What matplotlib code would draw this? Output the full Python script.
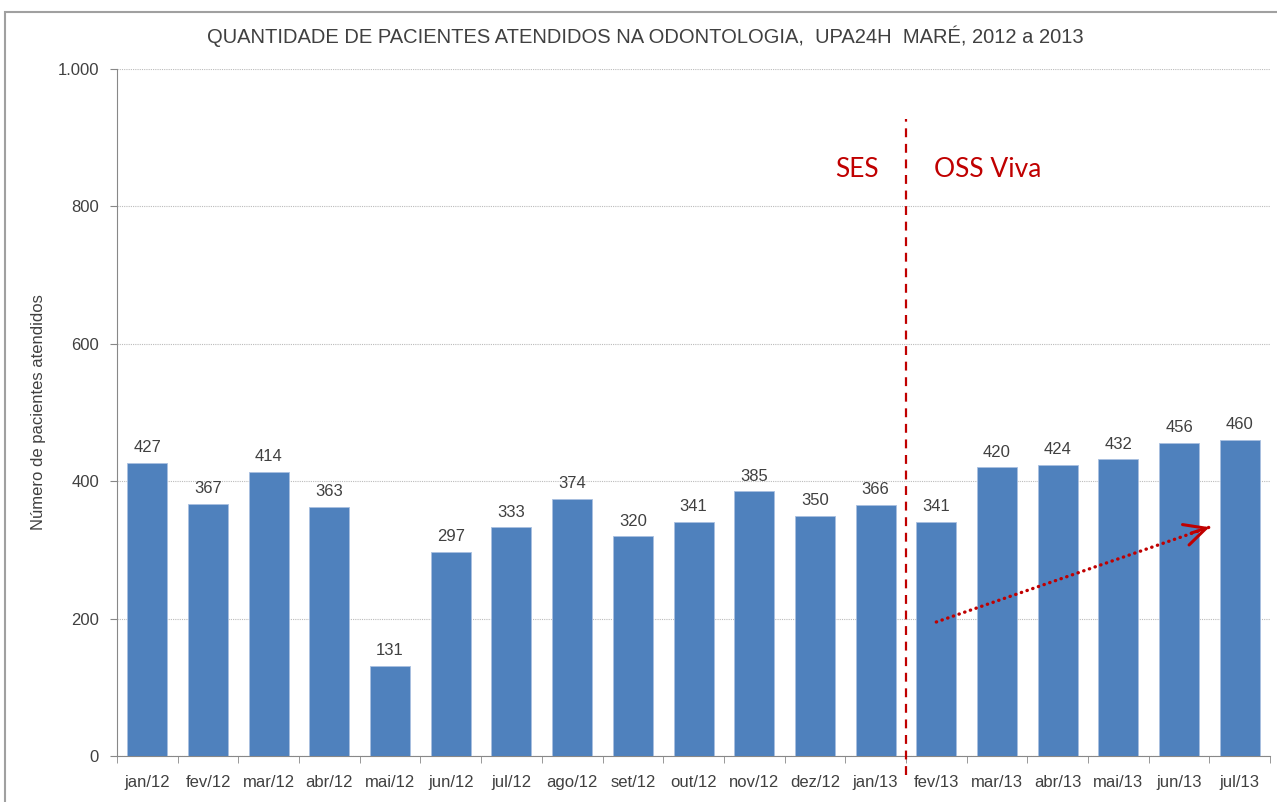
import matplotlib
matplotlib.use('Agg')
import matplotlib.pyplot as plt
from matplotlib.patches import Rectangle
from matplotlib.ticker import FuncFormatter, MultipleLocator
import numpy as np

months = ["jan/12", "fev/12", "mar/12", "abr/12", "mai/12", "jun/12", "jul/12",
          "ago/12", "set/12", "out/12", "nov/12", "dez/12", "jan/13", "fev/13",
          "mar/13", "abr/13", "mai/13", "jun/13", "jul/13"]
patients = [427, 367, 414, 363, 131, 297, 333, 374, 320, 341, 385, 350, 366,
            341, 420, 424, 432, 456, 460]

# split between the two managements (SES / OSS Viva)
split_idx = 12.5
trend_start = (13, 195)
trend_end = (17.5, 333)

plt.rcParams['font.family'] = ['Liberation Sans', 'DejaVu Sans']
txt = "#404040"
red = "#C00000"

fig = plt.figure(figsize=(12.77, 8.02), dpi=100)
ax = fig.add_axes([0.0916, 0.0574, 0.903, 0.8566])

x = np.arange(len(months))
ax.bar(x, patients, width=0.66, color="#4F81BD", edgecolor="#A9C0E0", linewidth=0.6, zorder=3)
for xi, v in zip(x, patients):
    ax.text(xi, v + 11, str(v), ha="center", va="bottom", fontsize=12, color=txt)

ax.set_xlim(-0.5, len(months) - 0.5)
ax.set_ylim(0, 1000)
ax.yaxis.set_major_locator(MultipleLocator(200))
ax.yaxis.set_major_formatter(FuncFormatter(lambda v, p: f"{int(v):,}".replace(",", ".")))
ax.set_xticks(x)
ax.set_xticklabels(months)
ax.set_xticks(np.arange(-0.5, len(months)), minor=True)
ax.tick_params(axis="x", which="major", length=0, pad=14, labelsize=12, labelcolor=txt)
ax.tick_params(axis="x", which="minor", length=5, color="#888888")
ax.tick_params(axis="y", length=5, color="#888888", labelsize=12, labelcolor=txt, pad=8)
ax.grid(axis="y", linestyle=(0, (1, 1)), color="#BBBBBB", linewidth=0.8, zorder=0)
for s in ["top", "right"]:
    ax.spines[s].set_visible(False)
for s in ["left", "bottom"]:
    ax.spines[s].set_color("#888888")
ax.set_ylabel("Número de pacientes atendidos", fontsize=12, color=txt, labelpad=8)

ax.set_title("QUANTIDADE DE PACIENTES ATENDIDOS NA ODONTOLOGIA,  UPA24H  MARÉ, 2012 a 2013",
             fontsize=14.5, color=txt, pad=19, x=0.458)

# dashed split line
ax.plot([split_idx, split_idx], [-28, 927], color=red, linestyle=(0, (4, 3)),
        linewidth=1.6, clip_on=False, zorder=4)
ax.text(11.7, 853, "SES", color=red, fontsize=19, family=["Lato", "DejaVu Sans"],
        ha="center", va="center")
ax.text(13.85, 853, "OSS Viva", color=red, fontsize=19, family=["Lato", "DejaVu Sans"],
        ha="center", va="center")

# trend arrow: dotted shaft plus open head
ax.plot([trend_start[0], trend_end[0]], [trend_start[1], trend_end[1]], color=red,
        linestyle=(0, (0.1, 1.7)), linewidth=2.4, dash_capstyle="round", zorder=5)
ax.annotate("", xy=trend_end, xytext=(trend_end[0] - 0.3, trend_end[1] - 8.5),
            arrowprops=dict(arrowstyle="->, head_length=0.7, head_width=0.35",
                            color=red, linewidth=2.2, mutation_scale=22,
                            shrinkA=0, shrinkB=0), zorder=5)

# chart frame
fig.patches.append(Rectangle((5 / 1277, -0.05), 1.1, 1 - 12 / 802 + 0.05,
                             transform=fig.transFigure, fill=False,
                             edgecolor="#A0A0A0", linewidth=1.5))

fig.savefig("out.png", dpi=100)
